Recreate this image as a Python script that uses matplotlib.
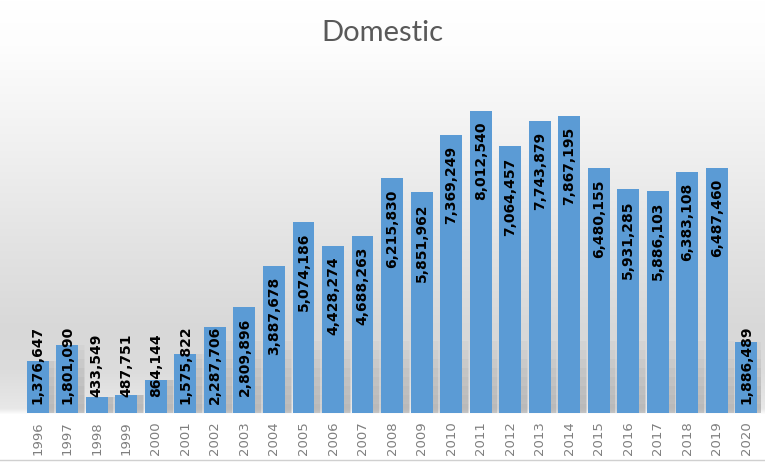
import numpy as np
import matplotlib.pyplot as plt
from matplotlib.colors import to_rgb

# data
years = [str(y) for y in range(1996, 2021)]
passengers = [1376647, 1801090, 433549, 487751, 864144, 1575822, 2287706,
              2809896, 3887678, 5074186, 4428274, 4688263, 6215830, 5851962,
              7369249, 8012540, 7064457, 7743879, 7867195, 6480155, 5931285,
              5886103, 6383108, 6487460, 1886489]

bar_color = '#5b9bd5'

fig = plt.figure(figsize=(7.65, 4.63), dpi=100)

# background gradient (Excel-style), px measured from the top
bg = fig.add_axes([0, 0, 1, 1], zorder=0)
bg.set_axis_off()
stops_px = [0, 45, 150, 250, 330, 370, 408, 414, 463]
stops_c = ['#ffffff', '#fdfdfd', '#f0f0f0', '#e2e2e2', '#d8d8d8', '#dcdcdc',
           '#e8e8e8', '#ffffff', '#ffffff']
rows = np.arange(463)
cols = np.array([to_rgb(c) for c in stops_c])
grad = np.stack([np.interp(rows, stops_px, cols[:, k]) for k in range(3)], axis=-1)
bg.imshow(grad[:, None, :], aspect='auto', extent=[0, 1, 0, 1], origin='upper')
bg.plot([0, 1], [0.006, 0.006], color='#d0d0d0', lw=1)
bg.set_xlim(0, 1)
bg.set_ylim(0, 1)

ax = fig.add_axes([0.030, 0.108, 0.965, 0.7335], zorder=1)
ax.patch.set_alpha(0)
x = np.arange(len(years))

# soft, fading shadows behind the bars
for k in range(1, 9):
    cap = k * 0.24e6
    for w in (0.95, 0.85):
        ax.bar(x + 0.14, [min(v, cap) for v in passengers], width=w,
               color='#6a6a6a', alpha=0.025, zorder=1, linewidth=0)

ax.bar(x, passengers, width=0.74, color=bar_color, zorder=2, linewidth=0)

ax.set_xlim(-0.5, len(years) - 0.5)
ax.set_ylim(0, 9e6)
ax.set_yticks([])
for s in ax.spines.values():
    s.set_visible(False)
ax.set_xticks(x)
ax.set_xticklabels(years, rotation=90, color='#7f7f7f', fontsize=9.5)
ax.tick_params(axis='x', length=0, pad=6)

labels = []
for xi, v in zip(x, passengers):
    t = ax.text(xi, v - 0.29e6, f'{v:,}', rotation=90, ha='center', va='top',
                fontsize=10, fontweight='bold', color='black', zorder=3)
    labels.append(t)

fig.canvas.draw()
r = fig.canvas.get_renderer()
for t in labels:
    bb = t.get_window_extent(r).transformed(ax.transData.inverted())
    if bb.y0 < 0.4e6:
        t.set_va('center')
        t.set_y(1.27e6)

fig.text(0.5, 0.929, 'Domestic', ha='center', va='center', fontsize=21,
         color='#595959', family='Lato')

fig.savefig('out.png', dpi=100)
